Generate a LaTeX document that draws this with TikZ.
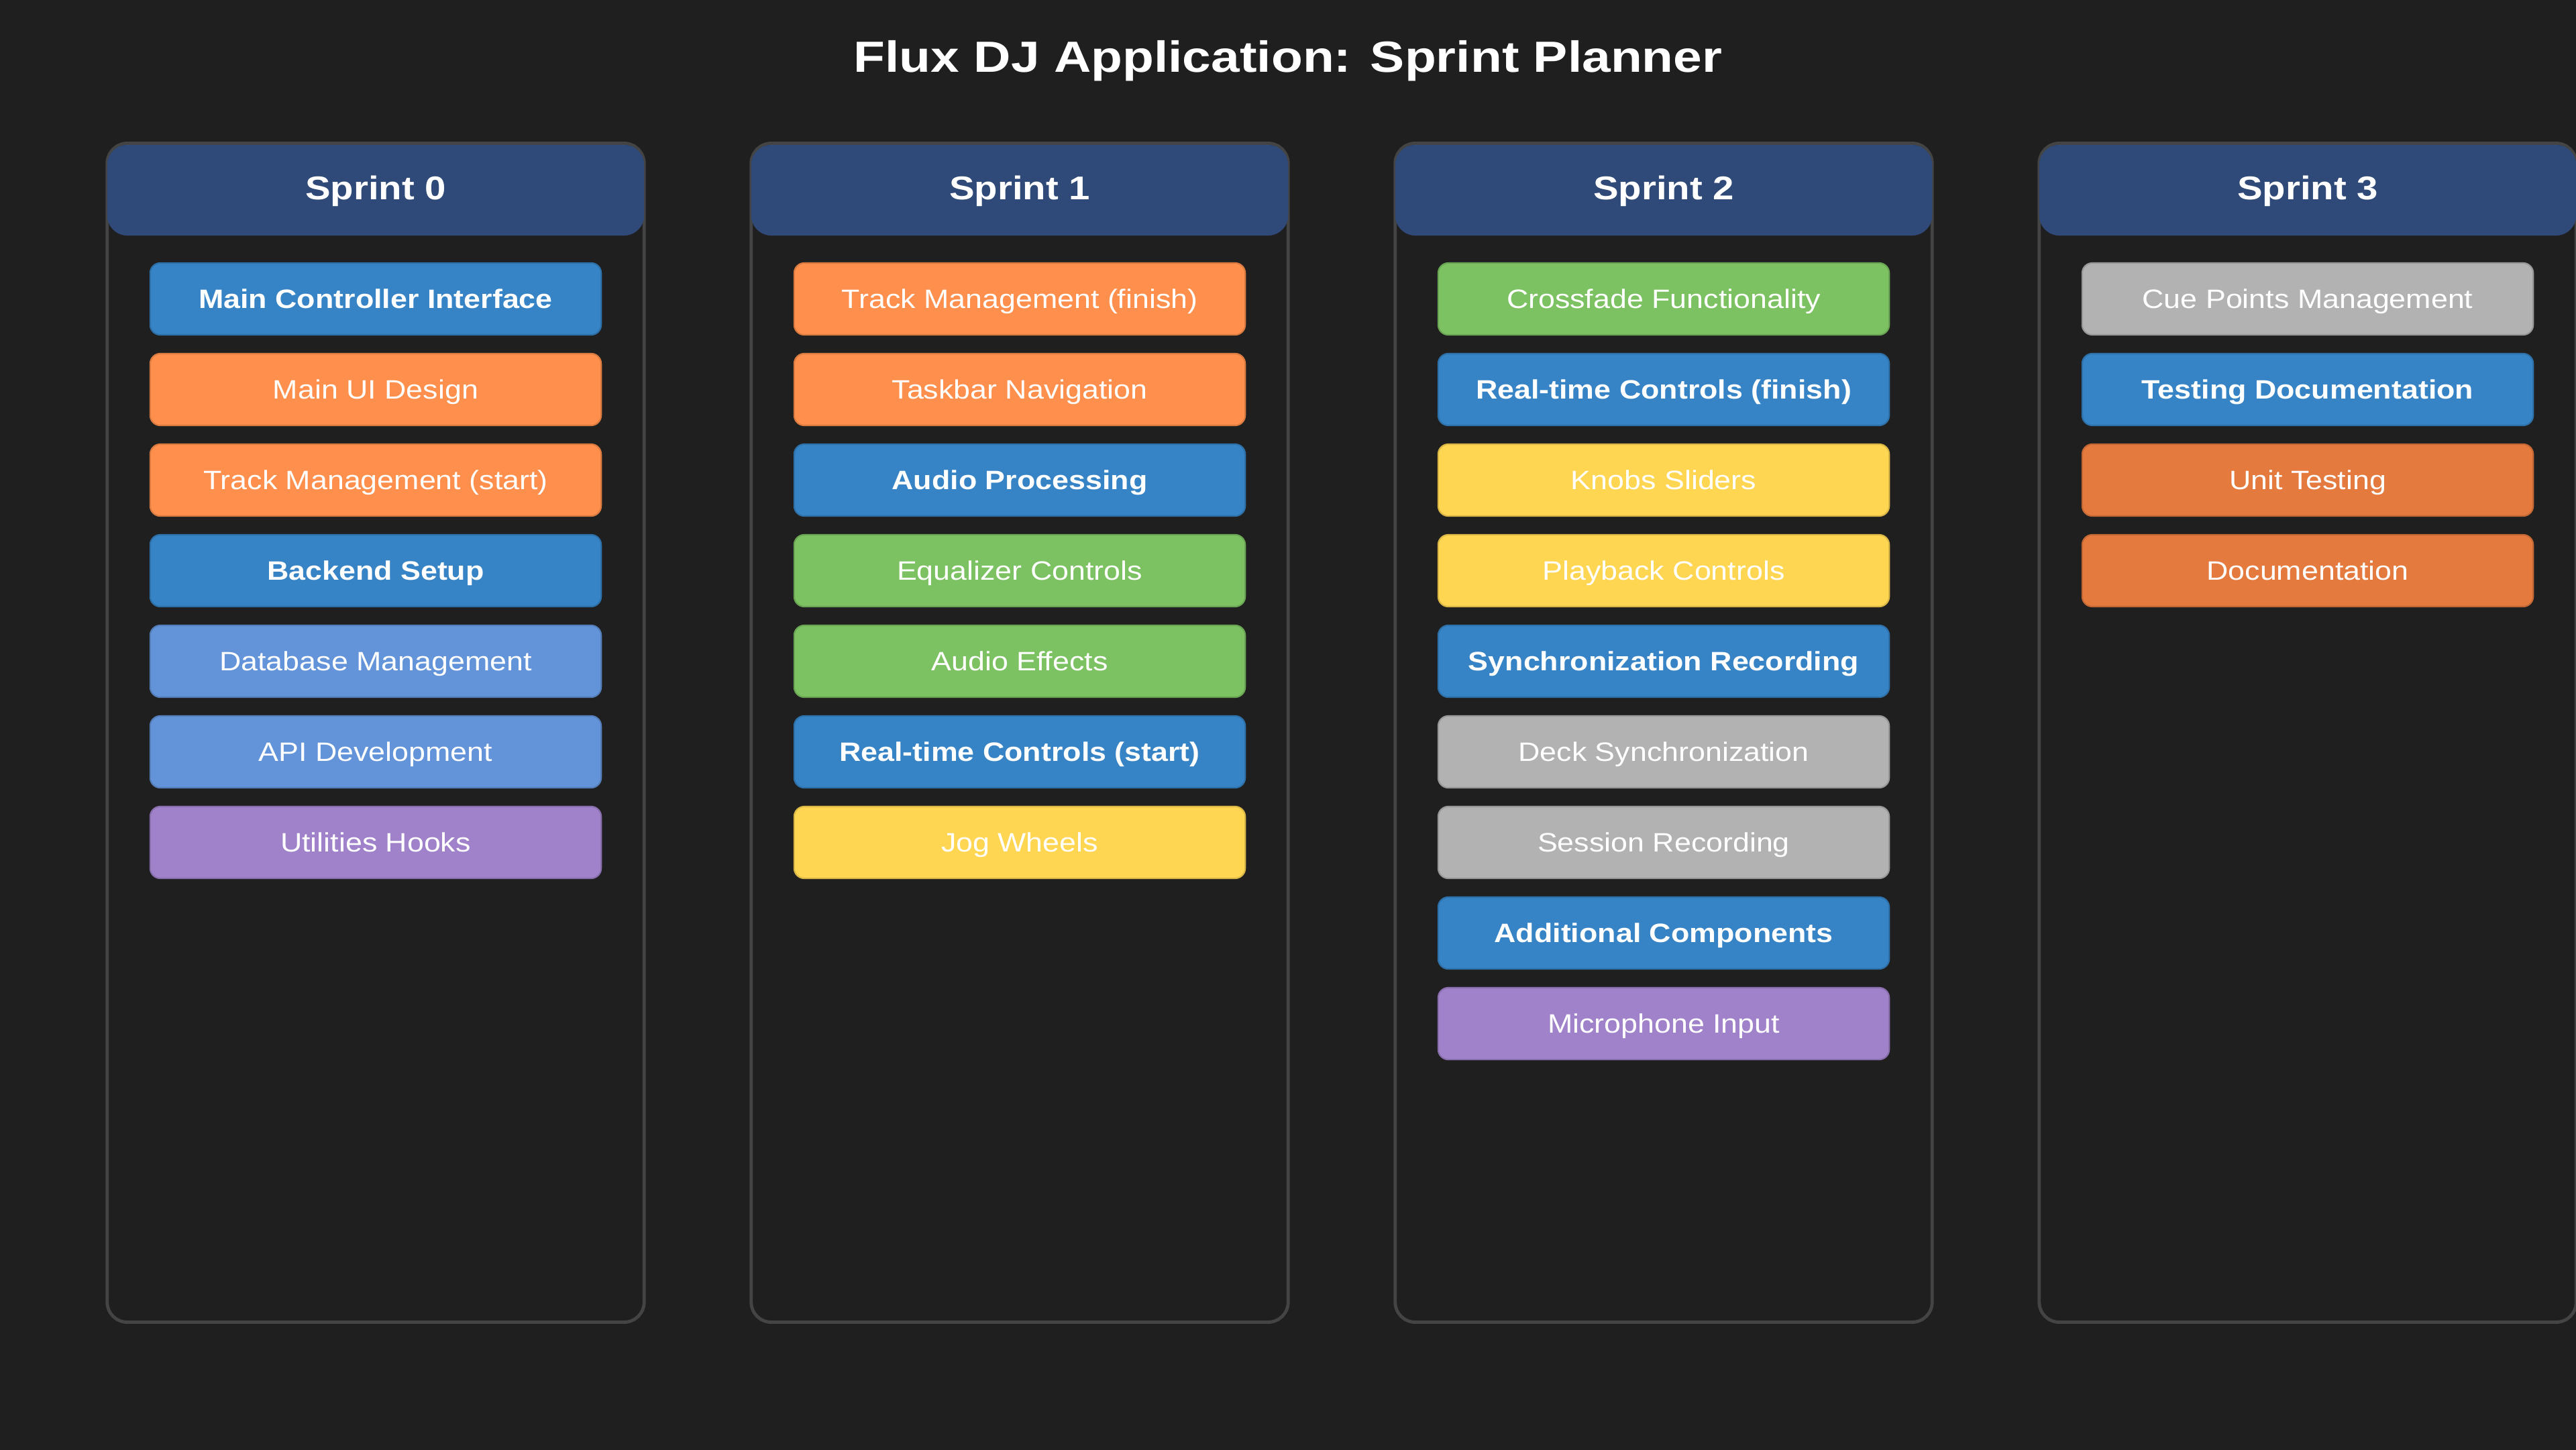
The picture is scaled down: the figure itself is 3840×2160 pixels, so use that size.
\documentclass[tikz,border=0pt]{standalone}
\usepackage{fontspec}
\setmainfont{Liberation Sans}
\newfontfamily\titlefont{Liberation Sans}[FakeStretch=1.18]
\newfontfamily\headfont{Liberation Sans}[FakeStretch=1.15]
\newfontfamily\taskfont{Liberation Sans}[FakeStretch=1.13]

\definecolor{pageBg}{HTML}{1F1F1F}
\definecolor{laneLine}{HTML}{444444}
\definecolor{headBg}{HTML}{2F4A78}
\definecolor{cBlue}{HTML}{3684C6}
\definecolor{cOrange}{HTML}{FF8F4C}
\definecolor{cDarkOrange}{HTML}{E57A3E}
\definecolor{cLightBlue}{HTML}{6394DA}
\definecolor{cPurple}{HTML}{A082CA}
\definecolor{cGreen}{HTML}{7DC262}
\definecolor{cYellow}{HTML}{FFD652}
\definecolor{cGray}{HTML}{B2B2B2}

\begin{document}
\begin{tikzpicture}[x=0.01cm,y=-0.01cm,
  lane/.style={draw=laneLine, line width=1.37pt, fill=pageBg, rounded corners=0.3cm,
    minimum width=8cm, minimum height=17.56cm, inner sep=0pt},
  lanehead/.style={fill=headBg, rounded corners=0.3cm, minimum width=8cm,
    minimum height=1.35cm, inner sep=0pt, text=white,
    font=\headfont\bfseries\fontsize{13.94pt}{16pt}\selectfont,
    text height=0.35cm, text depth=0.08cm},
  task/.style={rounded corners=0.15cm, minimum width=6.72cm, minimum height=1.07cm,
    inner sep=0pt, text=white, line width=0.6pt,
    font=\taskfont\fontsize{11.27pt}{13pt}\selectfont,
    text height=0.2835cm, text depth=0pt},
  tkBlue/.style={task, fill=cBlue, draw=cBlue!85!black,
    font=\taskfont\bfseries\fontsize{11.27pt}{13pt}\selectfont},
  tkOrange/.style={task, fill=cOrange, draw=cOrange!85!black},
  tkDarkOrange/.style={task, fill=cDarkOrange, draw=cDarkOrange!85!black},
  tkLightBlue/.style={task, fill=cLightBlue, draw=cLightBlue!85!black},
  tkPurple/.style={task, fill=cPurple, draw=cPurple!85!black},
  tkGreen/.style={task, fill=cGreen, draw=cGreen!85!black},
  tkYellow/.style={task, fill=cYellow, draw=cYellow!85!black},
  tkGray/.style={task, fill=cGray, draw=cGray!85!black}
]
\useasboundingbox (0,0) rectangle (3840,2160);
\fill[pageBg] (-20,-20) rectangle (3860,2180);

% title
\node[text=white, inner sep=0pt, text height=0.465cm, text depth=0pt,
  font=\titlefont\bfseries\fontsize{18.49pt}{22pt}\selectfont]
  (title) at (1920,84.5) {Flux DJ Application: Sprint Planner};

% sprint lanes with their headers
\foreach \i in {0,1,2,3}{
  \node[lane] (lane\i) at (560+960*\i,1092) {};
  \node[lanehead] (head\i) at (560+960*\i,283.5) {Sprint \i};
}

% Sprint 0
\node[tkBlue]      (s0a) at (560,445.5)  {Main Controller Interface};
\node[tkOrange]    (s0b) at (560,580.5)  {Main UI Design};
\node[tkOrange]    (s0c) at (560,715.5)  {Track Management (start)};
\node[tkBlue]      (s0d) at (560,850.5)  {Backend Setup};
\node[tkLightBlue] (s0e) at (560,985.5)  {Database Management};
\node[tkLightBlue] (s0f) at (560,1120.5) {API Development};
\node[tkPurple]    (s0g) at (560,1255.5) {Utilities Hooks};

% Sprint 1
\node[tkOrange] (s1a) at (1520,445.5)  {Track Management (finish)};
\node[tkOrange] (s1b) at (1520,580.5)  {Taskbar Navigation};
\node[tkBlue]   (s1c) at (1520,715.5)  {Audio Processing};
\node[tkGreen]  (s1d) at (1520,850.5)  {Equalizer Controls};
\node[tkGreen]  (s1e) at (1520,985.5)  {Audio Effects};
\node[tkBlue]   (s1f) at (1520,1120.5) {Real-time Controls (start)};
\node[tkYellow] (s1g) at (1520,1255.5) {Jog Wheels};

% Sprint 2
\node[tkGreen]  (s2a) at (2480,445.5)  {Crossfade Functionality};
\node[tkBlue]   (s2b) at (2480,580.5)  {Real-time Controls (finish)};
\node[tkYellow] (s2c) at (2480,715.5)  {Knobs Sliders};
\node[tkYellow] (s2d) at (2480,850.5)  {Playback Controls};
\node[tkBlue]   (s2e) at (2480,985.5)  {Synchronization Recording};
\node[tkGray]   (s2f) at (2480,1120.5) {Deck Synchronization};
\node[tkGray]   (s2g) at (2480,1255.5) {Session Recording};
\node[tkBlue]   (s2h) at (2480,1390.5) {Additional Components};
\node[tkPurple] (s2i) at (2480,1525.5) {Microphone Input};

% Sprint 3
\node[tkGray]       (s3a) at (3440,445.5) {Cue Points Management};
\node[tkBlue]       (s3b) at (3440,580.5) {Testing Documentation};
\node[tkDarkOrange] (s3c) at (3440,715.5) {Unit Testing};
\node[tkDarkOrange] (s3d) at (3440,850.5) {Documentation};
\end{tikzpicture}
\end{document}
